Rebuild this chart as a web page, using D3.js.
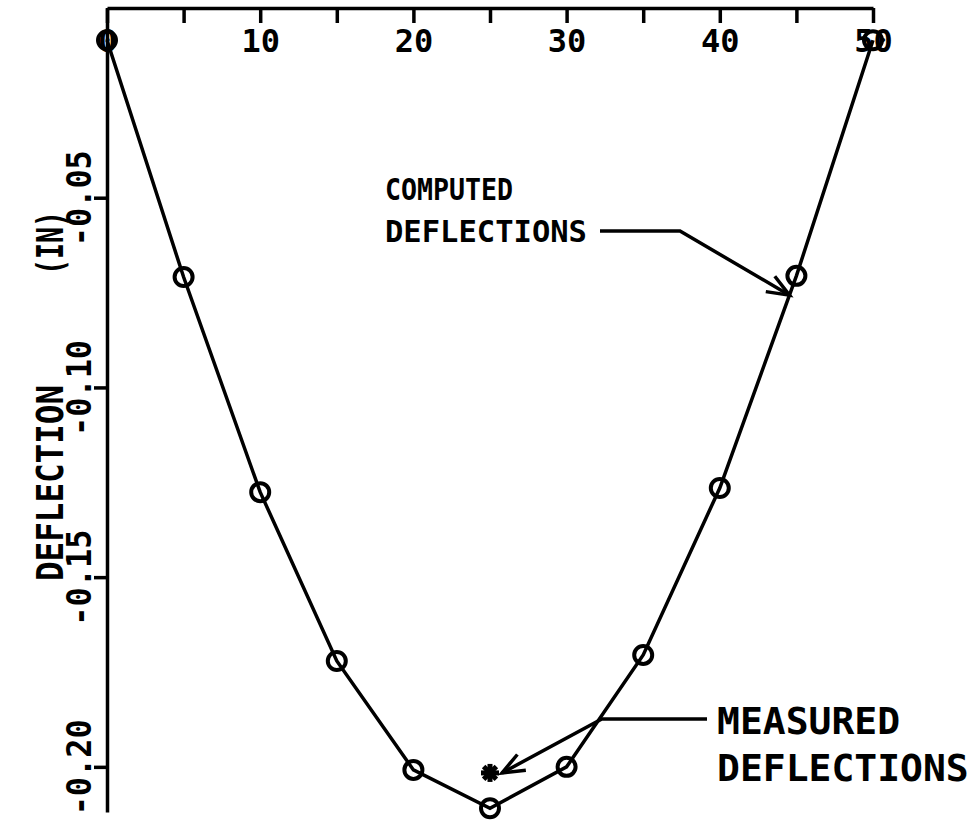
<!DOCTYPE html>
<html>
<head>
<meta charset="utf-8">
<script src="https://cdn.jsdelivr.net/npm/d3@7"></script>
<style>
  html, body { margin: 0; padding: 0; background: #fff; }
  svg { display: block; }
  text { font-family: "DejaVu Sans Mono", "Liberation Mono", monospace; font-weight: bold; fill: #000; }
</style>
</head>
<body>
<svg id="chart" width="977" height="830"></svg>
<script>
// ---- data ----
const stations = [0, 5, 10, 15, 20, 25, 30, 35, 40, 45, 50];
const computedDeflections = [-0.0085, -0.0709, -0.1276, -0.1721, -0.2008, -0.2109, -0.2000, -0.1705, -0.1265, -0.0706, -0.0085];
const measuredStations = [25];
const measuredDeflections = [-0.2016];
const xTickValues = [0, 5, 10, 15, 20, 25, 30, 35, 40, 45, 50];
const yTickValues = [-0.05, -0.10, -0.15, -0.20];
const yTitle = ["DEFLECTION", "(IN)"];
const computedLabel = ["COMPUTED", "DEFLECTIONS"];
const measuredLabel = ["MEASURED", "DEFLECTIONS"];

const svg = d3.select("#chart");
const x = d3.scaleLinear().domain([0, 50]).range([107, 873]);
const y = d3.scaleLinear().domain([0, -0.2119]).range([8, 812]);

// top axis (ticks pointing down, labels below)
const xAxis = d3.axisBottom(x)
  .tickValues(xTickValues)
  .tickSize(15)
  .tickSizeOuter(0)
  .tickPadding(6)
  .tickFormat(d => d % 10 === 0 ? String(d) : "");
const gx = svg.append("g").attr("transform", `translate(0,${y(0)})`).call(xAxis);
gx.select(".domain").attr("stroke", "#000").attr("stroke-width", 3.5);
gx.selectAll(".tick line").attr("stroke", "#000").attr("stroke-width", 3.5);
gx.selectAll(".tick text").attr("font-size", 32).style("font-family", "DejaVu Sans Mono").style("font-weight", "bold");

// left axis
const yAxis = d3.axisLeft(y)
  .tickValues(yTickValues)
  .tickSize(13)
  .tickSizeOuter(0)
  .tickFormat(d => d.toFixed(2).replace("\u2212", "-"));
const gy = svg.append("g").attr("transform", `translate(${x(0)},0)`).call(yAxis);
gy.select(".domain").attr("stroke", "#000").attr("stroke-width", 3.5);
gy.selectAll(".tick line").attr("stroke", "#000").attr("stroke-width", 3.5);
gy.selectAll(".tick text")
  .attr("font-size", 33)
  .style("font-family", "DejaVu Sans Mono").style("font-weight", "bold")
  .attr("x", null).attr("dy", null)
  .attr("text-anchor", "middle")
  .attr("textLength", 96).attr("lengthAdjust", "spacingAndGlyphs")
  .attr("transform", "translate(-16,0) rotate(-90)");

// y-axis title
svg.append("text")
  .attr("transform", `translate(63,0) rotate(-90)`)
  .attr("font-size", 38)
  .attr("x", -483).attr("text-anchor", "middle")
  .attr("textLength", 196).attr("lengthAdjust", "spacingAndGlyphs")
  .text(yTitle[0]);
svg.append("text")
  .attr("transform", `translate(63,0) rotate(-90)`)
  .attr("font-size", 38)
  .attr("x", -243).attr("text-anchor", "middle")
  .attr("textLength", 64).attr("lengthAdjust", "spacingAndGlyphs")
  .text(yTitle[1]);

// computed line
const pts = stations.map((s, i) => [s, computedDeflections[i]]);
svg.append("path")
  .datum(pts)
  .attr("fill", "none")
  .attr("stroke", "#000")
  .attr("stroke-width", 3.5)
  .attr("d", d3.line().x(d => x(d[0])).y(d => y(d[1])));

svg.append("g").selectAll("circle")
  .data(pts)
  .join("circle")
  .attr("cx", d => x(d[0]))
  .attr("cy", d => y(d[1]))
  .attr("r", 9)
  .attr("fill", "none")
  .attr("stroke", "#000")
  .attr("stroke-width", 4);

// measured asterisk
const mpts = measuredStations.map((s, i) => [s, measuredDeflections[i]]);
const star = svg.append("g").selectAll("g").data(mpts).join("g")
  .attr("transform", d => `translate(${x(d[0])},${y(d[1])})`);
[0, 45, 90, 135].forEach(a => {
  star.append("line")
    .attr("x1", -9).attr("x2", 9).attr("y1", 0).attr("y2", 0)
    .attr("transform", `rotate(${a})`)
    .attr("stroke", "#000").attr("stroke-width", 5);
});
star.append("circle").attr("r", 5.5).attr("fill", "#000");

// arrow helper
function arrow(pointsPx) {
  svg.append("path")
    .attr("d", d3.line()(pointsPx))
    .attr("fill", "none").attr("stroke", "#000").attr("stroke-width", 3.5);
  const [p1, p2] = pointsPx.slice(-2);
  const ang = Math.atan2(p2[1] - p1[1], p2[0] - p1[0]);
  const L = 24, spread = 0.38;
  const b1 = [p2[0] - L * Math.cos(ang - spread), p2[1] - L * Math.sin(ang - spread)];
  const b2 = [p2[0] - L * Math.cos(ang + spread), p2[1] - L * Math.sin(ang + spread)];
  svg.append("path")
    .attr("d", d3.line()([b1, p2, b2]))
    .attr("fill", "none").attr("stroke", "#000").attr("stroke-width", 3.5);
}

// computed annotation: tip on the line between 40 and 45
const tipC = [x(44.55), y(-0.0757)];
arrow([[600, 231], [680, 231], tipC]);
svg.append("text").attr("x", 385).attr("y", 200).attr("font-size", 31)
  .attr("textLength", 128).attr("lengthAdjust", "spacingAndGlyphs").text(computedLabel[0]);
svg.append("text").attr("x", 385).attr("y", 242).attr("font-size", 31)
  .attr("textLength", 202).attr("lengthAdjust", "spacingAndGlyphs").text(computedLabel[1]);

// measured annotation
const cornerM = [x(32.3), y(-0.1874)];
const tipM = [x(25) + 12, y(measuredDeflections[0])];
arrow([[707, cornerM[1]], cornerM, tipM]);
svg.append("text").attr("x", 717).attr("y", 734).attr("font-size", 38).text(measuredLabel[0]);
svg.append("text").attr("x", 717).attr("y", 781).attr("font-size", 38).text(measuredLabel[1]);
</script>
</body>
</html>
